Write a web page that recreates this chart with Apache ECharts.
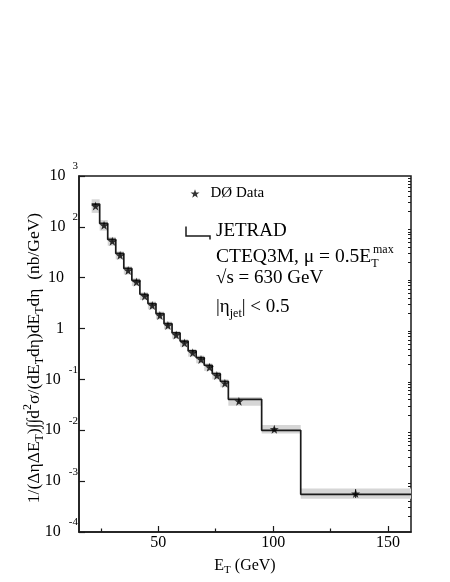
<!DOCTYPE html>
<html>
<head>
<meta charset="utf-8">
<script src="https://cdn.jsdelivr.net/npm/echarts@6/dist/echarts.min.js"></script>
<style>
  html, body { margin: 0; padding: 0; background: #fff; }
  #chart { width: 450px; height: 582px; }
</style>
</head>
<body>
<div id="chart"></div>
<script>
// E_T bin edges (GeV), one more than the number of bins.
var etEdges = [21, 24.5, 28, 31.5, 35, 38.5, 42, 45.5, 49, 52.5, 56, 59.5, 63, 66.5, 70, 73.5, 77, 80.5, 95, 112, 160];
// JETRAD prediction per bin (nb/GeV).
var theoryVal = [281, 117, 56.5, 30, 15.2, 8.9, 4.73, 3.1, 1.97, 1.25, 0.82, 0.567, 0.363, 0.269, 0.19, 0.13, 0.092, 0.0407, 0.0100, 0.00055];
// D0 data points.
var dataEt = [22.7, 26.4, 30.0, 33.4, 36.9, 40.5, 44.1, 47.4, 50.7, 54.2, 57.8, 61.4, 65.0, 68.6, 72.3, 75.5, 79.0, 85.1, 100.5, 135.9];
var dataVal = [256, 107, 51.9, 27.5, 13.9, 8.2, 4.34, 2.85, 1.81, 1.15, 0.75, 0.52, 0.333, 0.247, 0.174, 0.119, 0.084, 0.0372, 0.0105, 0.00057];
// fractional systematic (grey band) and statistical errors
var sysErr = [0.36, 0.27, 0.22, 0.2, 0.2, 0.19, 0.19, 0.19, 0.19, 0.19, 0.19, 0.19, 0.19, 0.19, 0.19, 0.19, 0.2, 0.22, 0.21, 0.26];
var statErr = [0.01, 0.01, 0.01, 0.01, 0.01, 0.01, 0.01, 0.01, 0.01, 0.01, 0.01, 0.02, 0.02, 0.02, 0.02, 0.02, 0.03, 0.05, 0.08, 0.22];
// axis ticks
var xMajorTicks = [50, 100, 150];
var xMinorTicks = [25, 75, 125];
var yMajorTicks = [1e-4, 1e-3, 1e-2, 1e-1, 1, 10, 100, 1000];

var FONT = 'Liberation Serif';
var INK = '#1a1a1a';
var STAR = 'path://M0,-10 L2.35,-3.24 L9.51,-3.09 L3.8,1.24 L5.88,8.09 L0,4 L-5.88,8.09 L-3.8,1.24 L-9.51,-3.09 L-2.35,-3.24 Z';

var yMinorTicks = [];
for (var d = -4; d < 3; d++) {
  for (var m = 2; m <= 9; m++) {
    yMinorTicks.push(m * Math.pow(10, d));
  }
}

var stepPts = [];
for (var i = 0; i < theoryVal.length; i++) {
  stepPts.push([etEdges[i], theoryVal[i]]);
  stepPts.push([etEdges[i + 1], theoryVal[i]]);
}
var bandData = dataVal.map(function (v, i) {
  return [etEdges[i], etEdges[i + 1], v, sysErr[i]];
});
var pointData = dataVal.map(function (v, i) {
  return [dataEt[i], v];
});
var errData = dataVal.map(function (v, i) {
  return [dataEt[i], v, statErr[i]];
});

function yLabel(v) {
  var k = Math.round(Math.log10(v));
  if (k === 0) return '{p|1}';
  if (k === 1) return '{p|10}';
  if (k > 1) return '{b|10}{e|' + k + '}';
  return '{b|10}{n|' + k + '}';
}

var chart = echarts.init(document.getElementById('chart'), null, {renderer: 'canvas'});

var option = {
  animation: false,
  backgroundColor: '#fff',
  grid: {
    left: 79, right: 39, top: 176, bottom: 50,
    containLabel: false,
    show: true,
    borderColor: INK,
    borderWidth: 1.5,
  },
  legend: {
    data: [{name: 'DØ Data', icon: STAR}],
    left: 190.5,
    top: 186,
    padding: 0,
    itemWidth: 9,
    itemHeight: 9,
    itemGap: 0,
    selectedMode: false,
    textStyle: {fontFamily: FONT, fontSize: 15, color: '#000', padding: [0, 0, 0, 6]},
  },
  xAxis: [{
    type: 'value',
    min: 15.5,
    max: 160,
    position: 'bottom',
    axisLine: {show: true, lineStyle: {color: INK, width: 1.5}},
    axisTick: {show: true, inside: true, length: 6, customValues: xMajorTicks, lineStyle: {color: INK, width: 1.2}},
    axisLabel: {customValues: xMajorTicks, margin: 3, color: '#000', fontFamily: FONT, fontSize: 16},
    splitLine: {show: false},
    name: 'E{s|T} (GeV)',
    nameLocation: 'middle',
    nameGap: 19,
    nameTextStyle: {
      color: '#000', fontFamily: FONT, fontSize: 16, lineHeight: 20,
      rich: {s: {fontFamily: FONT, fontSize: 11, lineHeight: 12, verticalAlign: 'bottom', color: '#000'}},
    },
  }, {
    type: 'value',
    min: 15.5,
    max: 160,
    position: 'bottom',
    axisLine: {show: false},
    axisTick: {show: true, inside: true, length: 3.5, customValues: xMinorTicks, lineStyle: {color: INK, width: 1.2}},
    axisLabel: {show: false},
    splitLine: {show: false},
  }],
  yAxis: [{
    type: 'log',
    logBase: 10,
    min: 1e-4,
    max: 1e3,
    axisLine: {show: true, lineStyle: {color: INK, width: 1.5}},
    axisTick: {show: true, inside: true, length: 6, customValues: yMajorTicks, lineStyle: {color: INK, width: 1.2}},
    axisLabel: {
      customValues: yMajorTicks,
      margin: 1,
      formatter: yLabel,
      color: '#000',
      fontFamily: FONT,
      fontSize: 16,
      rich: {
        b: {fontFamily: FONT, fontSize: 16, lineHeight: 30, color: '#000'},
        p: {fontFamily: FONT, fontSize: 16, lineHeight: 30, color: '#000', padding: [0, 14, 0, 0]},
        e: {fontFamily: FONT, fontSize: 11, lineHeight: 12, color: '#000', verticalAlign: 'top', padding: [0, 0, 0, 7]},
        n: {fontFamily: FONT, fontSize: 11, lineHeight: 12, color: '#000', verticalAlign: 'top', padding: [0, 0, 0, 8]},
      },
    },
    splitLine: {show: false},
    name: '1/(ΔηΔE{s|T})∫∫d{u|2}σ/(dE{s|T}dη)dE{s|T}dη  (nb/GeV)',
    nameLocation: 'middle',
    nameRotate: 90,
    nameGap: 33,
    nameMoveOverlap: false,
    nameTextStyle: {
      color: '#000', fontFamily: FONT, fontSize: 17.5, lineHeight: 24,
      padding: [0, 8, 0, 0],
      rich: {
        s: {fontFamily: FONT, fontSize: 12, lineHeight: 13, verticalAlign: 'bottom', color: '#000'},
        u: {fontFamily: FONT, fontSize: 12, lineHeight: 13, verticalAlign: 'top', color: '#000'},
      },
    },
  }, {
    type: 'log',
    logBase: 10,
    min: 1e-4,
    max: 1e3,
    axisLine: {show: false},
    axisTick: {show: true, inside: true, length: 3, customValues: yMinorTicks, lineStyle: {color: INK, width: 1}},
    axisLabel: {show: false},
    splitLine: {show: false},
  }],
  series: [{
    // grey systematic band
    type: 'custom',
    xAxisIndex: 0,
    yAxisIndex: 0,
    clip: true,
    z: 1,
    encode: {x: [0, 1], y: 2},
    data: bandData,
    renderItem: function (params, api) {
      var v = api.value(2);
      var f = 1 + api.value(3);
      var p1 = api.coord([api.value(0), v * f]);
      var p2 = api.coord([api.value(1), v / f]);
      return {
        type: 'rect',
        shape: {x: p1[0], y: p1[1], width: p2[0] - p1[0], height: p2[1] - p1[1]},
        style: {fill: '#d6d6d6'},
      };
    },
  }, {
    name: 'JETRAD',
    type: 'line',
    xAxisIndex: 0,
    yAxisIndex: 0,
    z: 3,
    symbol: 'none',
    data: stepPts,
    lineStyle: {color: INK, width: 1.7},
  }, {
    // statistical error bars
    type: 'custom',
    xAxisIndex: 0,
    yAxisIndex: 0,
    z: 4,
    encode: {x: 0, y: 1},
    data: errData,
    renderItem: function (params, api) {
      var f = 1 + api.value(2);
      var top = api.coord([api.value(0), api.value(1) * f]);
      var bot = api.coord([api.value(0), api.value(1) / f]);
      return {
        type: 'line',
        shape: {x1: top[0], y1: top[1], x2: bot[0], y2: bot[1]},
        style: {stroke: INK, lineWidth: 1},
      };
    },
  }, {
    name: 'DØ Data',
    type: 'scatter',
    xAxisIndex: 0,
    yAxisIndex: 0,
    z: 5,
    symbol: STAR,
    symbolSize: 9,
    itemStyle: {color: '#000'},
    data: pointData,
  }],
  graphic: [{
    type: 'polyline',
    shape: {points: [[186, 226.5], [186, 236], [210, 236], [210, 239.5]]},
    style: {stroke: INK, lineWidth: 1.5, fill: null},
  }, {
    type: 'text',
    x: 216, y: 231,
    style: {text: 'JETRAD', fontFamily: FONT, fontSize: 19, fill: '#000', verticalAlign: 'middle'},
  }, {
    type: 'text',
    x: 216, y: 257,
    style: {
      text: '{n|CTEQ3M, μ = 0.5E}{s|T}',
      verticalAlign: 'middle',
      fill: '#000',
      rich: {
        n: {fontFamily: FONT, fontSize: 19.5, lineHeight: 26, fill: '#000'},
        s: {fontFamily: FONT, fontSize: 12, lineHeight: 14, verticalAlign: 'bottom', fill: '#000'},
      },
    },
  }, {
    type: 'text',
    x: 373, y: 250,
    style: {text: 'max', fontFamily: FONT, fontSize: 12, fill: '#000', verticalAlign: 'middle'},
  }, {
    type: 'text',
    x: 216, y: 278,
    style: {text: '√s = 630 GeV', fontFamily: FONT, fontSize: 19, fill: '#000', verticalAlign: 'middle'},
  }, {
    type: 'text',
    x: 216, y: 307,
    style: {
      text: '{n||η}{s|jet}{n|| < 0.5}',
      verticalAlign: 'middle',
      fill: '#000',
      rich: {
        n: {fontFamily: FONT, fontSize: 19, lineHeight: 26, fill: '#000'},
        s: {fontFamily: FONT, fontSize: 12, lineHeight: 14, verticalAlign: 'bottom', fill: '#000'},
      },
    },
  }],
};

chart.setOption(option);
</script>
</body>
</html>
